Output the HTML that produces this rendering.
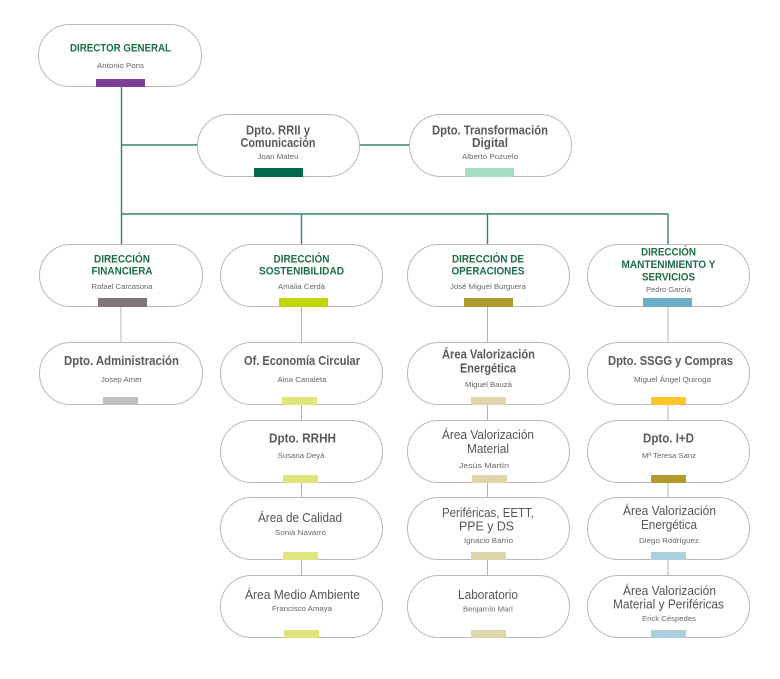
<!DOCTYPE html>
<html><head><meta charset="utf-8">
<style>
html,body{margin:0;padding:0;background:#fff;}
svg{display:block;}
text{font-family:"Liberation Sans",sans-serif;}
.g{fill:#1c6d48;font-weight:bold;font-size:11px;}
.tb{fill:#5a5a5a;font-weight:bold;font-size:12.5px;}
.tr{fill:#555;font-weight:normal;font-size:13px;}
.n{fill:#666;font-size:7.5px;}
.box{fill:#fff;stroke:#b8b8b8;stroke-width:1;}
.gl{stroke:#358566;stroke-width:1.4;fill:none;}
.cl{stroke:#b5b5b5;stroke-width:1;fill:none;}
</style></head>
<body>
<svg width="780" height="679" viewBox="0 0 780 679" xmlns="http://www.w3.org/2000/svg">
<path class="gl" d="M121.5 86 V214 M121.5 145 H197 M359 145 H409 M121.5 214 H668 M301.5 214 V244 M487.5 214 V244 M668 214 V244 M121.5 214 V244"/>
<path class="cl" d="M121 306 V342 M301.5 306 V342 M301.5 404 V420 M301.5 482 V497 M301.5 559 V575 M487.5 306 V342 M487.5 404 V420 M487.5 482 V497 M487.5 559 V575 M668 306 V342 M668 404 V420 M668 482 V497 M668 559 V575"/>

<rect class="box" x="38.5" y="24.5" width="163" height="62" rx="31"/>
<rect class="box" x="197.5" y="114.5" width="162" height="62" rx="31"/>
<rect class="box" x="409.5" y="114.5" width="162" height="62" rx="31"/>

<rect class="box" x="39.5" y="244.5" width="163" height="62" rx="31"/>
<rect class="box" x="220.5" y="244.5" width="162" height="62" rx="31"/>
<rect class="box" x="407.5" y="244.5" width="162" height="62" rx="31"/>
<rect class="box" x="587.5" y="244.5" width="162" height="62" rx="31"/>

<rect class="box" x="39.5" y="342.5" width="163" height="62" rx="31"/>
<rect class="box" x="220.5" y="342.5" width="162" height="62" rx="31"/>
<rect class="box" x="407.5" y="342.5" width="162" height="62" rx="31"/>
<rect class="box" x="587.5" y="342.5" width="162" height="62" rx="31"/>

<rect class="box" x="220.5" y="420.5" width="162" height="62" rx="31"/>
<rect class="box" x="407.5" y="420.5" width="162" height="62" rx="31"/>
<rect class="box" x="587.5" y="420.5" width="162" height="62" rx="31"/>

<rect class="box" x="220.5" y="497.5" width="162" height="62" rx="31"/>
<rect class="box" x="407.5" y="497.5" width="162" height="62" rx="31"/>
<rect class="box" x="587.5" y="497.5" width="162" height="62" rx="31"/>

<rect class="box" x="220.5" y="575.5" width="162" height="62" rx="31"/>
<rect class="box" x="407.5" y="575.5" width="162" height="62" rx="31"/>
<rect class="box" x="587.5" y="575.5" width="162" height="62" rx="31"/>

<rect x="96" y="79" width="49" height="8" fill="#7b3f98"/>
<rect x="254" y="168" width="49" height="9" fill="#00694a"/>
<rect x="465" y="168" width="49" height="9" fill="#a6dcc5"/>

<rect x="98" y="298" width="49" height="9" fill="#7e7578"/>
<rect x="279" y="298" width="49" height="9" fill="#c4d600"/>
<rect x="464" y="298" width="49" height="9" fill="#ad9a30"/>
<rect x="643" y="298" width="49" height="9" fill="#6aafc5"/>

<rect x="103" y="397" width="35" height="8" fill="#c1bfbf"/>
<rect x="282" y="397" width="35" height="8" fill="#dfe47c"/>
<rect x="471" y="397" width="35" height="8" fill="#e0d6ab"/>
<rect x="651" y="397" width="35" height="8" fill="#ffc629"/>

<rect x="283" y="475" width="35" height="8" fill="#dfe47c"/>
<rect x="472" y="475" width="35" height="8" fill="#e0d6ab"/>
<rect x="651" y="475" width="35" height="8" fill="#b29b2b"/>

<rect x="283" y="552" width="35" height="8" fill="#dfe47c"/>
<rect x="471" y="552" width="35" height="8" fill="#e0d6ab"/>
<rect x="651" y="552" width="35" height="8" fill="#a9d1dd"/>

<rect x="284" y="630" width="35" height="8" fill="#dfe47c"/>
<rect x="471" y="630" width="35" height="8" fill="#e0d6ab"/>
<rect x="651" y="630" width="35" height="8" fill="#a9d1dd"/>

<g text-anchor="middle" dominant-baseline="central">
<text class="g" x="120.5" y="48.5" textLength="101" lengthAdjust="spacingAndGlyphs">DIRECTOR GENERAL</text>
<text class="n" x="120.5" y="65.5" textLength="47" lengthAdjust="spacingAndGlyphs">Antonio Pons</text>

<text class="tb" x="278" y="130.5" textLength="64" lengthAdjust="spacingAndGlyphs">Dpto. RRII y</text>
<text class="tb" x="278" y="143" textLength="75" lengthAdjust="spacingAndGlyphs">Comunicación</text>
<text class="n" x="278" y="156.5" textLength="41" lengthAdjust="spacingAndGlyphs">Joan Mateu</text>

<text class="tb" x="490" y="130.5" textLength="116" lengthAdjust="spacingAndGlyphs">Dpto. Transformación</text>
<text class="tb" x="490" y="143" textLength="36" lengthAdjust="spacingAndGlyphs">Digital</text>
<text class="n" x="490" y="156.5" textLength="56" lengthAdjust="spacingAndGlyphs">Alberto Pozuelo</text>

<text class="g" x="122" y="259.5" textLength="56" lengthAdjust="spacingAndGlyphs">DIRECCIÓN</text>
<text class="g" x="122" y="271.5" textLength="61" lengthAdjust="spacingAndGlyphs">FINANCIERA</text>
<text class="n" x="122" y="286.5" textLength="61" lengthAdjust="spacingAndGlyphs">Rafael Carcasona</text>

<text class="g" x="301.5" y="259.5" textLength="56" lengthAdjust="spacingAndGlyphs">DIRECCIÓN</text>
<text class="g" x="301.5" y="271.5" textLength="85" lengthAdjust="spacingAndGlyphs">SOSTENIBILIDAD</text>
<text class="n" x="301.5" y="286.5" textLength="47" lengthAdjust="spacingAndGlyphs">Amalia Cerdà</text>

<text class="g" x="488" y="259.5" textLength="72" lengthAdjust="spacingAndGlyphs">DIRECCIÓN DE</text>
<text class="g" x="488" y="271.5" textLength="73" lengthAdjust="spacingAndGlyphs">OPERACIONES</text>
<text class="n" x="488" y="286.5" textLength="76" lengthAdjust="spacingAndGlyphs">José Miguel Burguera</text>

<text class="g" x="668.5" y="252.5" textLength="55" lengthAdjust="spacingAndGlyphs">DIRECCIÓN</text>
<text class="g" x="668.5" y="265" textLength="94" lengthAdjust="spacingAndGlyphs">MANTENIMIENTO Y</text>
<text class="g" x="668.5" y="277.5" textLength="53" lengthAdjust="spacingAndGlyphs">SERVICIOS</text>
<text class="n" x="668.5" y="289.5" textLength="45" lengthAdjust="spacingAndGlyphs">Pedro García</text>

<text class="tb" x="121.5" y="361" textLength="115" lengthAdjust="spacingAndGlyphs">Dpto. Administración</text>
<text class="n" x="121.5" y="379.5" textLength="41" lengthAdjust="spacingAndGlyphs">Josep Amer</text>

<text class="tb" x="302" y="361" textLength="116" lengthAdjust="spacingAndGlyphs">Of. Economía Circular</text>
<text class="n" x="302" y="379.5" textLength="49" lengthAdjust="spacingAndGlyphs">Aina Canaleta</text>

<text class="tb" x="488.5" y="354.5" textLength="93" lengthAdjust="spacingAndGlyphs">Área Valorización</text>
<text class="tb" x="488" y="368.5" textLength="56" lengthAdjust="spacingAndGlyphs">Energética</text>
<text class="n" x="488.5" y="384.5" textLength="47" lengthAdjust="spacingAndGlyphs">Miguel Bauzà</text>

<text class="tb" x="670.5" y="361" textLength="125" lengthAdjust="spacingAndGlyphs">Dpto. SSGG y Compras</text>
<text class="n" x="672.5" y="379.5" textLength="77" lengthAdjust="spacingAndGlyphs">Miguel Ángel Quiroga</text>

<text class="tb" x="302.5" y="438.5" textLength="67" lengthAdjust="spacingAndGlyphs">Dpto. RRHH</text>
<text class="n" x="301" y="455.5" textLength="47" lengthAdjust="spacingAndGlyphs">Susana Deyá</text>

<text class="tr" x="488" y="434.5" textLength="92" lengthAdjust="spacingAndGlyphs">Área Valorización</text>
<text class="tr" x="488" y="448.5" textLength="42" lengthAdjust="spacingAndGlyphs">Material</text>
<text class="n" x="484" y="465.5" textLength="50" lengthAdjust="spacingAndGlyphs">Jesús Martín</text>

<text class="tb" x="668.5" y="438.5" textLength="51" lengthAdjust="spacingAndGlyphs">Dpto. I+D</text>
<text class="n" x="669" y="455.5" textLength="54" lengthAdjust="spacingAndGlyphs">Mª Teresa Sanz</text>

<text class="tr" x="300" y="517.5" textLength="84" lengthAdjust="spacingAndGlyphs">Área de Calidad</text>
<text class="n" x="300.5" y="532.5" textLength="51" lengthAdjust="spacingAndGlyphs">Sonia Navarro</text>

<text class="tr" x="488" y="512.5" textLength="92" lengthAdjust="spacingAndGlyphs">Periféricas, EETT,</text>
<text class="tr" x="486.5" y="526" textLength="55" lengthAdjust="spacingAndGlyphs">PPE y DS</text>
<text class="n" x="488.5" y="540.5" textLength="49" lengthAdjust="spacingAndGlyphs">Ignacio Barrio</text>

<text class="tr" x="669.5" y="510.5" textLength="93" lengthAdjust="spacingAndGlyphs">Área Valorización</text>
<text class="tr" x="669" y="524.5" textLength="56" lengthAdjust="spacingAndGlyphs">Energética</text>
<text class="n" x="669" y="540.5" textLength="60" lengthAdjust="spacingAndGlyphs">Diego Rodríguez</text>

<text class="tr" x="302.5" y="594.5" textLength="115" lengthAdjust="spacingAndGlyphs">Área Medio Ambiente</text>
<text class="n" x="302" y="608.5" textLength="60" lengthAdjust="spacingAndGlyphs">Francisco Amaya</text>

<text class="tr" x="488" y="594.5" textLength="60" lengthAdjust="spacingAndGlyphs">Laboratorio</text>
<text class="n" x="488" y="609" textLength="50" lengthAdjust="spacingAndGlyphs">Benjamín Marí</text>

<text class="tr" x="669.5" y="590.5" textLength="93" lengthAdjust="spacingAndGlyphs">Área Valorización</text>
<text class="tr" x="668.5" y="604" textLength="111" lengthAdjust="spacingAndGlyphs">Material y Periféricas</text>
<text class="n" x="669" y="618.5" textLength="54" lengthAdjust="spacingAndGlyphs">Erick Céspedes</text>
</g>
</svg>
</body></html>
